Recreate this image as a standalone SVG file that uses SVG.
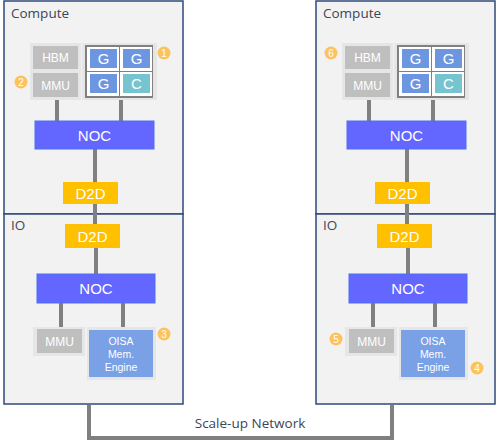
<svg xmlns="http://www.w3.org/2000/svg" width="497" height="442" viewBox="0 0 497 442">
<defs>
<style>
.die{fill:#f2f2f2;stroke:#2e4a7a;stroke-width:1.5}
.title{font-family:"Open Sans","Liberation Sans",sans-serif;font-size:13.5px;fill:#3b4656}
.grp{fill:#e6e6e6}
.gray{fill:#bfbfbf}
.wt{font-family:"Liberation Sans",Arial,sans-serif;fill:#ffffff;text-anchor:middle}
.noc{fill:#6366ff;stroke:#4b72f0;stroke-width:1}
.d2d{fill:#ffc000}
.g{fill:#6d96e0}
.c{fill:#76c4cf}
.cell{fill:#ffffff}
.oisa{fill:#7aa0e6}
.badge{fill:#fcc25e}
.bt{font-family:"Liberation Sans",Arial,sans-serif;font-size:10px;fill:#ffffff;text-anchor:middle}
.wire{stroke:#808080;stroke-width:4;fill:none}
</style>
</defs>
<rect width="497" height="442" fill="#ffffff"/>
<g id="compute-left">
<rect class="die" x="4" y="1" width="179" height="213"/>
<text class="title" x="11" y="18">Compute</text>
</g>
<g id="io-left">
<rect class="die" x="4" y="214" width="179" height="190"/>
<text class="title" x="11" y="230">IO</text>
</g>
<g id="compute-right">
<rect class="die" x="316" y="1" width="179" height="213"/>
<text class="title" x="323" y="18">Compute</text>
</g>
<g id="io-right">
<rect class="die" x="316" y="214" width="179" height="190"/>
<text class="title" x="323" y="230">IO</text>
</g>
<g id="connectors">
<path class="wire" d="M57,100V121M121,99V121M95,149V182M95,204V224M96,248V274M61,303V327M123,303V327"/>
<path class="wire" d="M369,100V121M433,99V121M407,149V182M407,204V224M408,248V274M373,303V327M435,303V327"/>
<path class="wire" d="M89,405V438H392V405"/>
</g>
<g id="left-hbm-mmu">
<rect class="grp" x="30" y="43" width="51" height="57"/>
<rect class="gray" x="33" y="46" width="45" height="23"/>
<text class="wt" x="55.5" y="62" font-size="12">HBM</text>
<rect class="gray" x="33" y="73" width="45" height="24"/>
<text class="wt" x="55.5" y="89.5" font-size="12">MMU</text>
</g>
<g id="left-gpu">
<rect class="grp" x="82" y="43" width="75" height="57"/>
<rect x="85" y="45" width="68" height="53" fill="#808080"/>
<rect class="cell" x="87" y="47" width="32" height="24"/>
<rect class="cell" x="120" y="47" width="32" height="24"/>
<rect class="cell" x="87" y="72" width="32" height="24"/>
<rect class="cell" x="120" y="72" width="32" height="24"/>
<rect class="g" x="90" y="49" width="27" height="19"/>
<rect class="g" x="123" y="49" width="27" height="19"/>
<rect class="g" x="90" y="74" width="27" height="19"/>
<rect class="c" x="123" y="74" width="27" height="19"/>
<text class="wt" x="103.5" y="64" font-size="15">G</text>
<text class="wt" x="136.5" y="64" font-size="15">G</text>
<text class="wt" x="103.5" y="89" font-size="15">G</text>
<text class="wt" x="136.5" y="89" font-size="15">C</text>
</g>
<g id="left-noc-c">
<rect class="noc" x="35" y="121" width="119" height="28"/>
<text class="wt" x="94.5" y="140.5" font-size="15">NOC</text>
</g>
<g id="left-d2d-c">
<rect class="d2d" x="63" y="182" width="55" height="22"/>
<text class="wt" x="90.5" y="198.5" font-size="15">D2D</text>
</g>
<g id="left-d2d-io">
<rect class="d2d" x="65" y="224" width="55" height="24"/>
<text class="wt" x="92.5" y="241.5" font-size="15">D2D</text>
</g>
<g id="left-noc-io">
<rect class="noc" x="37" y="274" width="118" height="29"/>
<text class="wt" x="96" y="294" font-size="15">NOC</text>
</g>
<g id="left-mmu-io">
<rect class="grp" x="33" y="327" width="52" height="29"/>
<rect class="gray" x="37" y="329" width="45" height="24"/>
<text class="wt" x="59.5" y="345.5" font-size="12">MMU</text>
</g>
<g id="left-oisa">
<rect class="grp" x="87" y="327" width="69" height="53"/>
<rect class="oisa" x="89" y="330" width="64" height="47"/>
<text class="wt" x="121" y="345" font-size="10.5">OISA</text>
<text class="wt" x="121" y="358" font-size="10.5">Mem.</text>
<text class="wt" x="121" y="371" font-size="10.5">Engine</text>
</g>
<g id="right-hbm-mmu">
<rect class="grp" x="342" y="43" width="51" height="57"/>
<rect class="gray" x="345" y="46" width="45" height="23"/>
<text class="wt" x="367.5" y="62" font-size="12">HBM</text>
<rect class="gray" x="345" y="73" width="45" height="24"/>
<text class="wt" x="367.5" y="89.5" font-size="12">MMU</text>
</g>
<g id="right-gpu">
<rect class="grp" x="394" y="43" width="75" height="57"/>
<rect x="397" y="45" width="68" height="53" fill="#808080"/>
<rect class="cell" x="399" y="47" width="32" height="24"/>
<rect class="cell" x="432" y="47" width="32" height="24"/>
<rect class="cell" x="399" y="72" width="32" height="24"/>
<rect class="cell" x="432" y="72" width="32" height="24"/>
<rect class="g" x="402" y="49" width="27" height="19"/>
<rect class="g" x="435" y="49" width="27" height="19"/>
<rect class="g" x="402" y="74" width="27" height="19"/>
<rect class="c" x="435" y="74" width="27" height="19"/>
<text class="wt" x="415.5" y="64" font-size="15">G</text>
<text class="wt" x="448.5" y="64" font-size="15">G</text>
<text class="wt" x="415.5" y="89" font-size="15">G</text>
<text class="wt" x="448.5" y="89" font-size="15">C</text>
</g>
<g id="right-noc-c">
<rect class="noc" x="347" y="121" width="119" height="28"/>
<text class="wt" x="406.5" y="140.5" font-size="15">NOC</text>
</g>
<g id="right-d2d-c">
<rect class="d2d" x="375" y="182" width="55" height="22"/>
<text class="wt" x="402.5" y="198.5" font-size="15">D2D</text>
</g>
<g id="right-d2d-io">
<rect class="d2d" x="377" y="224" width="55" height="24"/>
<text class="wt" x="404.5" y="241.5" font-size="15">D2D</text>
</g>
<g id="right-noc-io">
<rect class="noc" x="349" y="274" width="118" height="29"/>
<text class="wt" x="408" y="294" font-size="15">NOC</text>
</g>
<g id="right-mmu-io">
<rect class="grp" x="345" y="327" width="52" height="29"/>
<rect class="gray" x="349" y="329" width="45" height="24"/>
<text class="wt" x="371.5" y="345.5" font-size="12">MMU</text>
</g>
<g id="right-oisa">
<rect class="grp" x="399" y="327" width="69" height="53"/>
<rect class="oisa" x="401" y="330" width="64" height="47"/>
<text class="wt" x="433" y="345" font-size="10.5">OISA</text>
<text class="wt" x="433" y="358" font-size="10.5">Mem.</text>
<text class="wt" x="433" y="371" font-size="10.5">Engine</text>
</g>
<g id="badge-1"><circle class="badge" cx="164" cy="53" r="6.5"/><text class="bt" x="164" y="56.5">1</text></g>
<g id="badge-2"><circle class="badge" cx="21" cy="82" r="6.5"/><text class="bt" x="21" y="85.5">2</text></g>
<g id="badge-3"><circle class="badge" cx="164" cy="334" r="6.5"/><text class="bt" x="164" y="337.5">3</text></g>
<g id="badge-4"><circle class="badge" cx="477" cy="368" r="6.5"/><text class="bt" x="477" y="371.5">4</text></g>
<g id="badge-5"><circle class="badge" cx="336" cy="339" r="6.5"/><text class="bt" x="336" y="342.5">5</text></g>
<g id="badge-6"><circle class="badge" cx="331" cy="53" r="6.5"/><text class="bt" x="331" y="56.5">6</text></g>
<g id="label-network">
<text class="title" x="250" y="428" font-size="12.5" text-anchor="middle">Scale-up Network</text>
</g>
</svg>
